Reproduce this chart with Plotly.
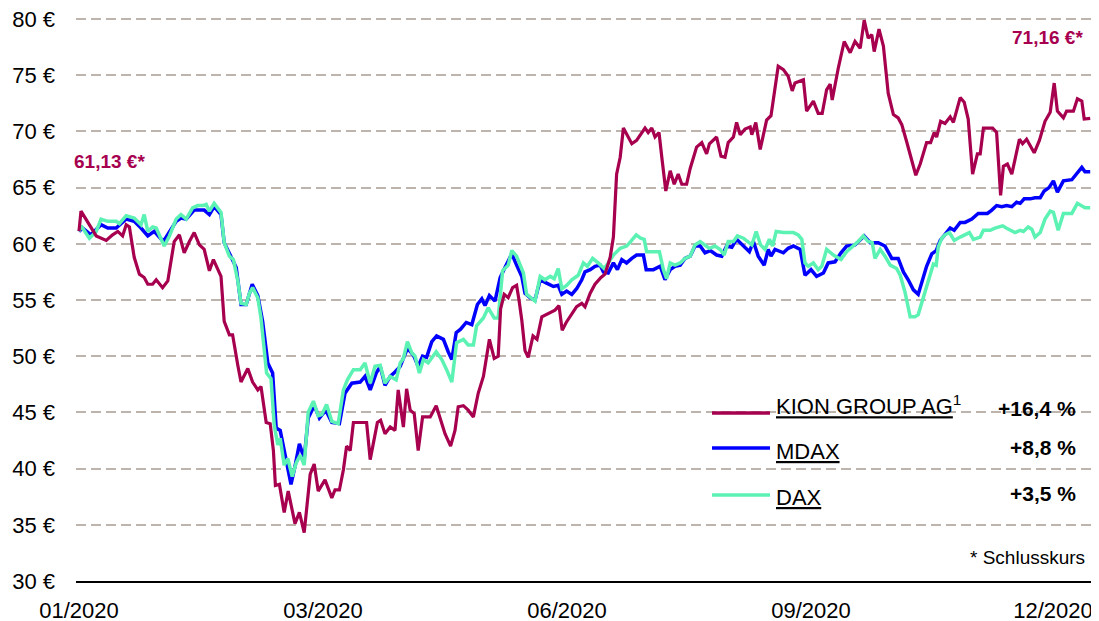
import plotly.graph_objects as go

# ---------------- data (x = trading-day index of 2020, y = price in EUR / indexed) -------------
tick_days = [0, 61, 122, 183, 243.5]
tick_labels = ["01/2020", "03/2020", "06/2020", "09/2020", "12/2020"]
y_ticks = [30, 35, 40, 45, 50, 55, 60, 65, 70, 75, 80]
y_tick_labels = ["30 €", "35 €", "40 €", "45 €", "50 €", "55 €", "60 €", "65 €", "70 €", "75 €", "80 €"]

kion_day = [0, 0.5, 4.3, 6.8, 8.4, 9.7, 10.9, 11.8, 12.6, 13.8, 15.1, 16.3, 17.2, 18.4, 19.3, 20.9, 22.2,
            23.8, 25.1, 26.3, 27.6, 28.8, 30.1, 31.3, 32.6, 33.6, 35.5, 36.3, 37.6, 38.4, 39.7, 40.5, 42.2,
            43.4, 44.7, 45.5, 46.8, 47.8, 48.6, 49.1, 50.1, 51.3, 52.3, 54.0, 55.1, 56.3, 57.8, 58.8, 59.8,
            61.5, 63.2, 64.0, 65.1, 66.1, 66.9, 67.8, 68.6, 71.9, 72.8, 74.6, 75.4, 76.5, 77.8, 79.0, 79.8,
            81.1, 81.9, 82.8, 83.8, 84.8, 85.9, 87.8, 89.3, 90.1, 91.5, 92.9, 94.0, 94.8, 96.1, 97.3, 98.6,
            99.8, 101.1, 102.6, 103.8, 104.8, 105.4, 106.3, 107.3, 108.4, 109.4, 110.0, 110.7, 111.5, 112.3,
            113.5, 114.5, 115.7, 117.3, 119.0, 120.0, 120.8, 121.8, 123.2, 124.4, 125.7, 126.5, 127.8, 129.0,
            130.5, 131.5, 132.8, 133.6, 134.4, 135.3, 136.1, 136.9, 138.2, 139.4, 140.7, 141.5, 142.3, 143.2,
            144.0, 145.0, 145.7, 146.7, 147.8, 148.8, 149.8, 150.7, 151.9, 152.8, 154.4, 155.7, 156.9, 157.6,
            159.4, 160.5, 161.5, 162.3, 163.6, 164.4, 165.3, 166.5, 167.8, 168.2, 169.2, 170.3, 171.9, 173.0,
            174.8, 176.1, 177.3, 178.3, 179.0, 181.1, 181.9, 183.6, 184.8, 185.8, 186.9, 187.8, 188.3, 189.8,
            191.3, 192.8, 194.0, 195.3, 196.3, 197.3, 198.2, 198.8, 200.0, 201.1, 202.3, 203.6, 204.8, 205.7,
            206.9, 208.2, 209.2, 210.3, 211.9, 212.9, 213.8, 214.4, 215.4, 216.5, 217.8, 218.6, 220.3, 221.3,
            222.3, 223.4, 224.6, 225.3, 226.1, 227.3, 228.4, 229.4, 230.4, 231.1, 232.1, 233.2, 235.1, 235.9,
            236.9, 238.8, 240.1, 241.5, 242.8, 243.8, 244.6, 246.1, 246.9, 248.6, 249.6, 250.7, 251.3, 252.8]
kion_eur = [61.13, 62.9, 60.7, 60.3, 60.8, 61.1, 60.7, 61.7, 61.5, 58.8, 57.3, 57.0, 56.4, 56.4, 56.8, 56.1, 56.7,
            60.2, 60.8, 59.2, 60.2, 61.0, 59.9, 59.5, 57.6, 58.6, 57.1, 53.1, 51.9, 51.9, 49.2, 47.7, 48.9,
            47.7, 47.0, 47.3, 44.1, 44.0, 41.6, 38.5, 38.6, 36.1, 38.0, 35.1, 36.1, 34.3, 39.5, 40.4, 38.0,
            39.0, 37.4, 38.1, 38.1, 39.9, 42.0, 41.6, 44.1, 44.1, 40.8, 44.1, 44.3, 43.1, 43.7, 43.4, 47.0,
            43.7, 47.1, 45.2, 44.9, 41.6, 44.6, 44.6, 45.6, 44.7, 43.1, 42.0, 43.4, 45.5, 45.6, 45.2, 44.6,
            46.7, 48.2, 51.5, 49.8, 50.0, 54.2, 55.5, 55.2, 56.1, 56.3, 55.0, 53.2, 50.5, 49.9,
            51.8, 51.5, 53.5, 53.8, 54.1, 54.5, 52.3, 53.0, 53.8, 54.4, 54.7, 54.4, 55.6, 56.4,
            57.0, 57.3, 58.8, 60.6, 66.2, 67.7, 70.3, 69.8, 68.9, 69.2, 69.9, 70.3, 69.9, 70.3,
            69.5, 69.9, 67.7, 64.7, 66.5, 65.3, 66.2, 65.3, 65.3, 66.7, 68.6, 69.0, 68.0, 68.9,
            69.5, 67.8, 67.7, 69.0, 69.5, 70.8, 69.7, 70.2, 70.4, 69.7, 70.8, 68.4, 71.0, 71.4,
            75.8, 75.5, 74.9, 73.6, 74.3, 74.6, 71.8, 72.7, 71.6, 71.6, 73.7, 74.2, 72.8, 75.6,
            78.0, 77.0, 78.0, 77.4, 79.9, 78.3, 78.6, 77.1, 79.1, 77.6, 73.4, 71.5, 71.2, 70.6,
            69.1, 67.5, 66.1, 67.1, 69.0, 69.0, 69.9, 69.5, 70.9, 70.7, 71.3, 70.8, 73.0, 72.6,
            71.1, 66.2, 68.0, 68.0, 70.3, 70.3, 70.3, 69.9, 64.3, 66.9, 67.1, 66.2, 69.3, 68.9,
            69.3, 68.1, 69.2, 70.9, 71.7, 74.3, 71.8, 71.2, 71.8, 71.8, 72.9, 72.7, 71.1, 71.16]

mdax_day = [0, 0.9, 3.0, 5.5, 7.2, 9.3, 11.8, 13.8, 15.5, 17.2, 18.8, 21.1, 24.3, 25.5, 26.8, 28.8, 31.3,
            32.6, 33.8, 35.5, 36.3, 38.0, 39.3, 40.5, 41.8, 43.3, 44.7, 45.9, 47.2, 48.4, 49.3, 50.3, 51.8,
            53.0, 54.0, 55.1, 56.3, 57.3, 58.8, 60.1, 61.7, 63.2, 65.1, 66.5, 68.2, 70.3, 71.5, 72.8, 74.3,
            75.3, 76.5, 77.8, 79.0, 80.3, 82.1, 83.6, 84.8, 85.9, 86.9, 88.2, 89.4, 91.1, 92.3, 93.2, 94.3,
            95.4, 96.8, 98.2, 99.6, 100.7, 101.5, 102.6, 104.0, 105.3, 106.5, 108.2, 109.4, 110.7, 111.5,
            112.8, 114.0, 115.3, 116.9, 118.6, 119.8, 120.7, 121.9, 123.2, 124.4, 125.7, 126.5, 127.8, 129.0,
            130.3, 131.1, 132.3, 133.6, 134.6, 135.7, 136.9, 138.2, 139.4, 141.1, 141.8, 143.6, 145.3, 146.5,
            147.8, 149.0, 150.3, 151.5, 152.8, 154.0, 155.3, 156.5, 157.8, 159.4, 160.7, 161.9, 163.2, 164.4,
            166.1, 167.6, 168.6, 169.8, 171.3, 172.3, 173.0, 174.0, 176.1, 177.3, 178.6, 180.3, 181.5, 183.0,
            184.4, 186.1, 187.3, 189.0, 190.5, 191.9, 194.0, 196.3, 197.8, 199.8, 201.5, 203.2, 204.8, 206.1,
            207.3, 208.6, 209.8, 210.7, 211.9, 213.2, 214.3, 215.3, 216.5, 217.8, 218.8, 220.3, 221.5, 223.2,
            224.8, 227.1, 228.2, 229.4, 230.7, 231.9, 233.2, 234.4, 235.3, 236.3, 237.8, 239.0, 240.3, 241.3,
            242.5, 243.6, 244.6, 246.1, 248.2, 249.4, 250.7, 251.5, 252.8]
mdax_eur = [61.1, 61.4, 60.8, 61.7, 61.4, 61.4, 62.2, 62.0, 61.4, 60.7, 61.1, 60.2, 62.0, 62.3, 62.2, 63.0, 63.0,
            62.6, 63.3, 62.6, 60.1, 58.9, 57.9, 54.6, 54.6, 56.4, 55.4, 53.1, 49.4, 48.5, 43.6, 43.4, 40.9,
            38.6, 40.2, 42.2, 40.9, 44.5, 45.6, 44.5, 45.2, 44.1, 44.0, 46.7, 47.6, 47.7, 48.2, 47.0, 48.5,
            49.1, 47.4, 48.2, 48.6, 49.1, 50.7, 50.1, 49.1, 50.0, 49.9, 51.3, 51.8, 51.5, 50.4, 49.7, 52.1,
            52.4, 53.0, 52.8, 54.6, 55.1, 54.5, 55.4, 54.9, 57.0, 57.9, 59.1, 58.1, 57.1, 55.6,
            55.2, 55.0, 56.8, 56.5, 56.2, 56.3, 55.5, 55.8, 55.5, 56.0, 56.8, 57.5, 57.7, 58.0,
            58.1, 57.5, 57.4, 58.3, 57.7, 58.6, 58.3, 58.7, 59.0, 59.0, 57.7, 57.7, 58.0, 56.8,
            57.7, 58.0, 58.1, 58.7, 58.9, 59.8, 59.8, 59.2, 59.4, 59.0, 58.9, 59.8, 59.7, 60.4,
            59.8, 59.3, 60.2, 58.9, 58.1, 59.5, 58.9, 59.5, 59.2, 59.6, 59.8, 59.5, 57.2, 57.7,
            57.1, 57.4, 58.3, 58.4, 59.2, 59.8, 59.9, 60.7, 60.1, 60.1, 59.8, 58.7, 58.7, 57.5,
            56.8, 55.9, 55.5, 56.5, 58.0, 59.1, 59.4, 60.3, 60.8, 61.4, 61.2, 61.9, 61.9, 62.2,
            62.7, 62.7, 63.0, 63.4, 63.3, 63.4, 63.3, 63.7, 63.6, 64.0, 64.0, 64.1, 64.1, 64.7,
            65.0, 65.6, 64.6, 65.6, 65.7, 66.2, 66.8, 66.4, 66.4]

dax_day = [0, 0.5, 2.6, 4.3, 5.5, 7.2, 9.3, 10.1, 11.8, 13.8, 15.5, 16.3, 17.2, 18.4, 19.3, 20.5, 21.3, 22.6,
           24.3, 25.5, 26.8, 28.4, 29.7, 30.9, 31.8, 32.6, 33.8, 35.5, 36.3, 37.6, 38.6, 39.7, 40.5, 41.8,
           42.6, 43.4, 44.7, 45.5, 46.3, 46.9, 48.0, 48.8, 49.7, 50.3, 51.3, 52.2, 53.3, 54.3, 55.3, 56.3,
           57.3, 58.6, 59.8, 60.7, 61.9, 63.2, 64.8, 66.1, 67.1, 68.6, 70.3, 71.5, 72.8, 74.0, 75.3, 76.5,
           77.8, 79.3, 80.3, 81.1, 82.1, 83.2, 84.0, 85.1, 86.1, 87.3, 89.3, 90.7, 91.9, 93.2, 94.4, 96.1,
           97.3, 98.6, 99.4, 101.1, 102.3, 103.8, 104.8, 105.9, 107.3, 108.2, 109.4, 110.3, 111.1, 111.9,
           112.8, 114.0, 115.3, 116.5, 117.8, 118.8, 119.8, 120.7, 121.9, 123.2, 124.8, 126.1, 127.1, 128.4,
           129.8, 131.3, 132.3, 133.6, 135.3, 136.9, 137.9, 139.3, 140.4, 141.3, 141.9, 145.1, 146.1, 146.9,
           147.8, 149.0, 150.3, 151.5, 152.8, 154.0, 155.3, 156.3, 157.6, 159.0, 160.3, 161.3, 162.3, 163.6,
           164.6, 166.1, 167.3, 168.2, 169.3, 170.4, 171.5, 172.6, 173.4, 174.3, 176.1, 178.6, 179.8, 180.7,
           181.5, 182.3, 183.6, 184.8, 185.7, 186.9, 188.6, 190.5, 191.9, 193.6, 194.8, 196.1, 197.3, 198.3,
           199.0, 200.3, 201.5, 202.8, 204.4, 205.3, 206.5, 207.8, 209.0, 209.8, 211.1, 212.3, 213.6, 214.3,
           214.8, 215.7, 216.5, 217.6, 218.8, 220.3, 221.5, 222.6, 223.6, 225.3, 226.1, 227.8, 229.0, 229.8,
           230.9, 231.8, 232.8, 234.0, 235.3, 236.1, 237.3, 238.2, 239.0, 240.3, 241.5, 242.8, 243.6, 244.8,
           246.1, 248.2, 249.6, 250.7, 251.5, 252.8]
dax_eur = [61.1, 61.6, 60.5, 61.1, 62.2, 62.0, 62.0, 61.8, 62.5, 62.3, 61.7, 62.6, 61.1, 61.5, 61.4, 60.5, 59.8, 60.7,
           62.2, 62.6, 62.2, 63.2, 63.4, 63.4, 63.5, 62.9, 63.6, 62.8, 60.1, 58.9, 58.6, 56.7, 54.7, 54.6,
           55.6, 56.1, 55.2, 53.4, 50.4, 48.5, 48.0, 43.9, 42.1, 42.7, 40.3, 40.9, 39.3, 40.5, 41.2, 40.3,
           45.0, 46.0, 44.7, 44.8, 45.7, 44.2, 44.0, 47.0, 47.9, 48.8, 48.8, 49.4, 47.6, 49.1, 49.2, 47.6,
           48.2, 47.9, 49.4, 49.8, 51.3, 50.3, 50.0, 48.5, 49.7, 49.4, 50.4, 49.7, 48.8, 47.7, 51.2, 51.5,
           51.0, 51.0, 52.7, 53.4, 54.3, 53.4, 53.4, 57.6, 58.1, 59.4, 58.9, 58.0, 57.4, 55.5,
           55.2, 54.9, 57.1, 56.8, 57.1, 56.9, 57.8, 56.0, 56.3, 56.8, 57.2, 58.3, 58.0, 58.7,
           58.3, 57.8, 58.3, 59.0, 59.6, 59.8, 60.2, 60.8, 60.5, 60.4, 59.3, 59.3, 57.7, 56.9,
           58.3, 58.1, 58.3, 58.7, 58.9, 59.9, 60.2, 59.9, 59.6, 59.8, 59.5, 59.0, 60.2, 60.2,
           60.7, 60.5, 60.2, 59.9, 61.1, 59.9, 59.5, 60.4, 59.8, 61.1, 61.0, 61.0, 60.8, 60.4,
           58.3, 58.0, 58.3, 57.7, 58.0, 59.5, 59.0, 58.6, 59.3, 59.8, 60.2, 60.7, 60.2, 60.1,
           58.7, 59.5, 58.9, 58.1, 57.8, 57.2, 55.7, 53.5, 53.5, 53.7, 55.3, 56.8, 58.2, 58.1,
           59.7, 60.5, 60.8, 61.0, 60.3, 60.6, 60.8, 61.0, 60.4, 60.6, 61.2, 61.2, 61.4, 61.5,
           61.6, 61.4, 61.2, 61.0, 61.2, 61.1, 61.5, 61.3, 60.6, 61.0, 62.2, 62.9, 62.8, 61.2,
           62.7, 62.7, 63.6, 63.4, 63.2, 63.2]

series_names = ["KION GROUP AG", "MDAX", "DAX"]
series_changes = ["+16,4 %", "+8,8 %", "+3,5 %"]
start_label = "61,13 €*"
end_label = "71,16 €*"

# ---------------- styling ----------------
KION_C = "#A6004F"
MDAX_C = "#0000FF"
DAX_C = "#5CF2B4"
GRID_C = "#BDB5AD"
FONT = "Liberation Sans, Arial, sans-serif"

# the page body has an 8 px margin, so the figure is 8 px smaller than the window
OFF = 8
W, H = 1099 - OFF, 621 - OFF
# plot area in window pixels: x 76..1092, y 15..581 (value 80 sits at y=19)
PX_PER_EUR = 11.24
L, R, T, B = 76, 1092, 15, 581
Y_TOP = 80 + 4 / PX_PER_EUR


def pxx(p):
    return (p - L) / (R - L)


def pxy(p):
    return (B - p) / (B - T)


fig = go.Figure()
fig.add_trace(go.Scatter(x=mdax_day, y=mdax_eur, mode="lines", name="MDAX",
                         line=dict(color=MDAX_C, width=3.5)))
fig.add_trace(go.Scatter(x=dax_day, y=dax_eur, mode="lines", name="DAX",
                         line=dict(color=DAX_C, width=3.5)))
fig.add_trace(go.Scatter(x=kion_day, y=kion_eur, mode="lines", name="KION GROUP AG",
                         line=dict(color=KION_C, width=3.2)))

shapes = [
    # white box behind the legend (hides gridlines there)
    dict(type="rect", xref="paper", yref="paper", x0=pxx(688), x1=1.0, y0=pxy(514), y1=pxy(382),
         fillcolor="white", line=dict(width=0), layer="between"),
]
legend_line_y = [413, 448, 495]
for c, yy in zip([KION_C, MDAX_C, DAX_C], legend_line_y):
    shapes.append(dict(type="line", xref="paper", yref="paper", x0=pxx(712), x1=pxx(770),
                       y0=pxy(yy), y1=pxy(yy), line=dict(color=c, width=3.5)))

annotations = []
label_y = [405, 451, 497]
label_txt = ["<u>%s</u><sup>1</sup>" % series_names[0], "<u>%s</u>" % series_names[1],
             "<u>%s</u>" % series_names[2]]
for t, yy in zip(label_txt, label_y):
    annotations.append(dict(xref="paper", yref="paper", x=pxx(774), y=pxy(yy), text=t, showarrow=False,
                            xanchor="left", yanchor="middle", font=dict(size=22, color="black", family=FONT)))
pct_y = [408, 447, 493]
for t, yy in zip(series_changes, pct_y):
    annotations.append(dict(xref="paper", yref="paper", x=pxx(1078), y=pxy(yy), text="<b>%s</b>" % t,
                            showarrow=False, xanchor="right", yanchor="middle",
                            font=dict(size=21, color="black", family=FONT)))
annotations.append(dict(xref="paper", yref="paper", x=pxx(1087), y=pxy(557), text="* Schlusskurs",
                        showarrow=False, xanchor="right", yanchor="middle",
                        font=dict(size=19, color="black", family=FONT)))
annotations.append(dict(xref="paper", yref="paper", x=pxx(72), y=pxy(162), text="<b>%s</b>" % start_label,
                        showarrow=False, xanchor="left", yanchor="middle",
                        font=dict(size=19, color=KION_C, family=FONT)))
annotations.append(dict(xref="paper", yref="paper", x=pxx(1085), y=pxy(37), text="<b>%s</b>" % end_label,
                        showarrow=False, xanchor="right", yanchor="middle",
                        font=dict(size=19, color=KION_C, family=FONT)))

fig.update_layout(
    width=W, height=H,
    margin=dict(l=L - OFF, r=1099 - R, t=T - OFF, b=621 - B, pad=0, autoexpand=False),
    plot_bgcolor="white", paper_bgcolor="white",
    showlegend=False,
    font=dict(family=FONT, size=22, color="black"),
    shapes=shapes, annotations=annotations,
    xaxis=dict(range=[-0.75, 253.25], tickmode="array", tickvals=tick_days, ticktext=tick_labels,
               showgrid=False, zeroline=False, showline=True, linecolor="black", linewidth=2,
               ticks="", ticklabelstandoff=9, tickfont=dict(size=22), automargin=False,
               ticklabeloverflow="allow"),
    yaxis=dict(range=[30, Y_TOP], tickmode="array", tickvals=y_ticks, ticktext=y_tick_labels,
               showgrid=True, gridcolor=GRID_C,
               gridwidth=2, griddash="10px,5px", zeroline=False, showline=False, ticks="",
               ticklabelstandoff=20, tickfont=dict(size=22), automargin=False,
               ticklabeloverflow="allow"),
)

fig.write_html("out.html")
